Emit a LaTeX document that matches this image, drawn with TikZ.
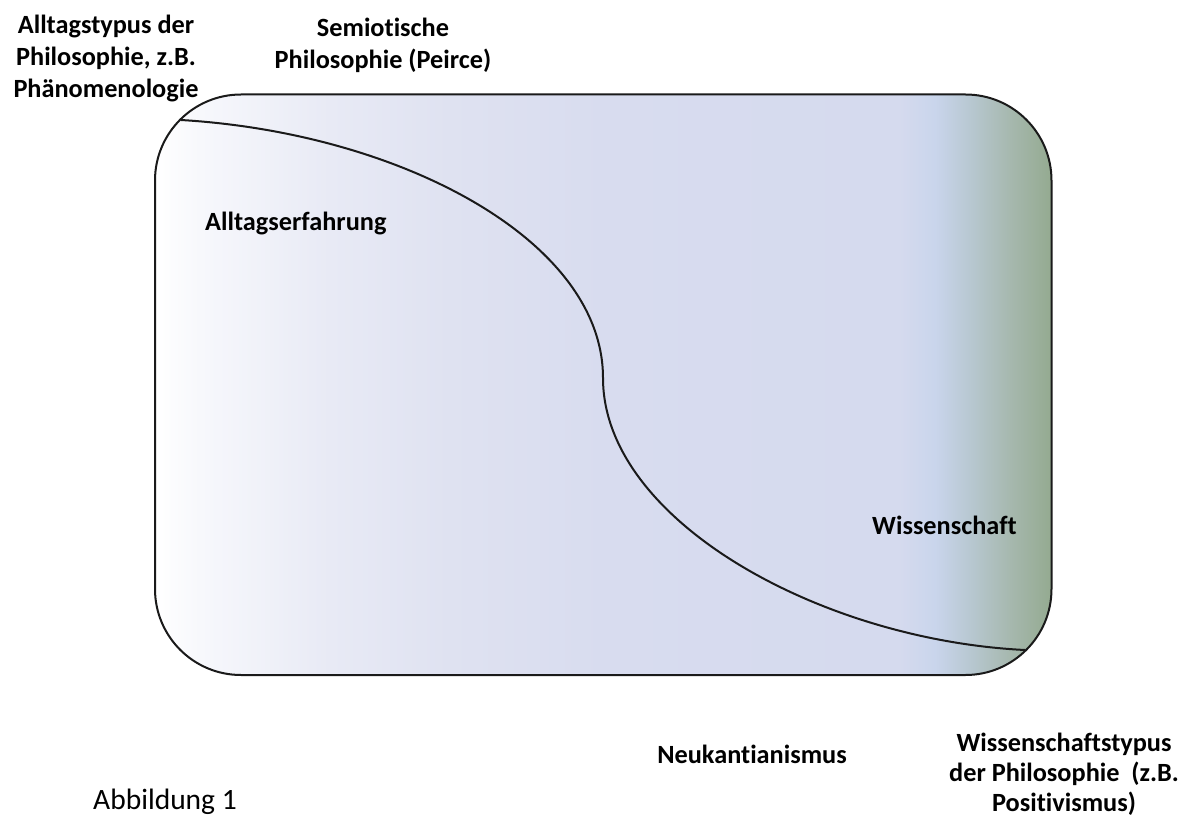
\documentclass[tikz,border=0pt]{standalone}
\usepackage{fontspec}
\setmainfont{Carlito}[Ligatures=NoCommon]
\definecolor{g1}{HTML}{F7F8FC}
\definecolor{g2}{HTML}{E8EAF5}
\definecolor{g3}{HTML}{DFE2F1}
\definecolor{g4}{HTML}{D8DCEF}
\definecolor{g5}{HTML}{D5DAEE}
\definecolor{g6}{HTML}{C9D5EC}
\definecolor{g7}{HTML}{B8C8D2}
\definecolor{g8}{HTML}{A6B8AE}
\definecolor{g9}{HTML}{94AA90}
\definecolor{edge}{HTML}{1A1A1A}
\pgfdeclarehorizontalshading{boxfill}{100bp}{color(0bp)=(white); color(25bp)=(white); color(27.5bp)=(g1); color(34.75bp)=(g2); color(41.4bp)=(g3); color(50bp)=(g4); color(66.5bp)=(g5); color(68.5bp)=(g6); color(70.4bp)=(g7); color(72.7bp)=(g8); color(75bp)=(g9); color(100bp)=(g9)}
\tikzset{
  lbl/.style={font=\fontsize{26.3}{32}\selectfont\bfseries, align=center, inner sep=0pt, text=black},
  capt/.style={font=\fontsize{29.5}{34}\selectfont, inner sep=0pt, text=black},
  frame/.style={draw=edge, line width=2pt, rounded corners=86pt, shading=boxfill},
  divider/.style={draw=edge, line width=2pt}
}
\begin{document}
\begin{tikzpicture}[x=1pt,y=-1pt]
\useasboundingbox (0,0) rectangle (1189,818);
\path[frame] (155,94.5) rectangle (1051.5,675);
\coordinate (cs) at (181,120);
\coordinate (cm) at (603,378);
\coordinate (ce) at (1025,650);
\path[divider] (cs) .. controls (400,133) and (603,240) .. (cm)
  .. controls (603,520) and (820,640) .. (ce);
\node[lbl] (alltagstyp) at (106,59) {Alltagstypus der\\Philosophie, z.B.\\Phänomenologie};
\node[lbl] (semio) at (383,45) {Semiotische\\Philosophie (Peirce)};
\node[lbl, anchor=west] (alltagserf) at (205,224) {Alltagserfahrung};
\node[lbl, anchor=west] (wiss) at (872,525) {Wissenschaft};
\node[lbl] (neukant) at (752,754) {Neukantianismus};
\node[lbl, font=\fontsize{26.3}{30}\selectfont\bfseries] (wisstyp) at (1064,774) {Wissenschaftstypus\\der Philosophie~ (z.B.\\Positivismus)};
\node[capt, anchor=west] (abb) at (93,802) {Abbildung 1};
\end{tikzpicture}
\end{document}
